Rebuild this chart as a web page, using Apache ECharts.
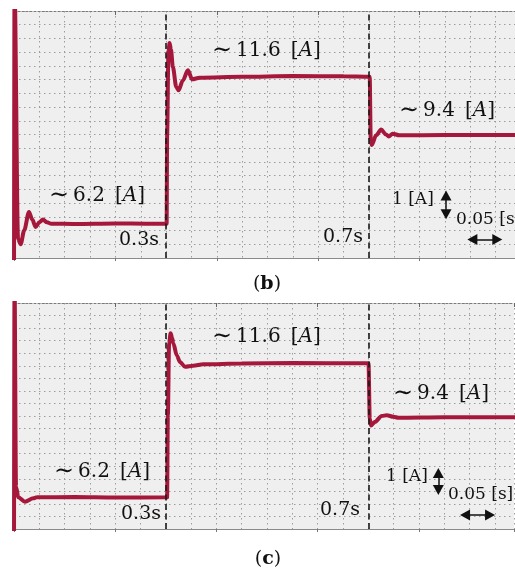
<!DOCTYPE html>
<html>
<head>
<meta charset="utf-8">
<script src="https://cdn.jsdelivr.net/npm/echarts@6/dist/echarts.min.js"></script>
<style>
  html, body { margin: 0; padding: 0; background: #ffffff; }
  #chart { width: 515px; height: 574px; }
</style>
</head>
<body>
<div id="chart"></div>
<script>
// ---------- data (time in s, current in A) ----------
const traceB_t = [0, 0.001, 0.008, 0.0132, 0.02, 0.0296, 0.036, 0.0428, 0.05, 0.0571, 0.065, 0.0737, 0.12, 0.2, 0.26,
  0.301, 0.302, 0.3045, 0.3068, 0.3095, 0.3133, 0.32, 0.3245, 0.333, 0.3429, 0.3515, 0.3659, 0.45, 0.55, 0.65,
  0.7015, 0.7035, 0.7055, 0.7141, 0.724, 0.7337, 0.739, 0.7468, 0.76, 0.85, 0.99];
const traceB_i = [4.0, 15.0, 5.7, 5.5, 6.0, 6.68, 6.4, 6.13, 6.3, 6.4, 6.3, 6.25, 6.24, 6.26, 6.25,
  6.25, 9.5, 12.5, 12.83, 12.6, 11.96, 11.23, 11.11, 11.47, 11.84, 11.51, 11.57, 11.6, 11.63, 11.62,
  11.6, 9.3, 9.12, 9.47, 9.68, 9.5, 9.43, 9.53, 9.47, 9.48, 9.48];

const traceC_t = [0, 0.001, 0.004, 0.0085, 0.0217, 0.038, 0.045, 0.12, 0.2,
  0.3025, 0.304, 0.3065, 0.3095, 0.3125, 0.3148, 0.3215, 0.328, 0.338, 0.354, 0.374, 0.45, 0.55,
  0.7005, 0.703, 0.7055, 0.7134, 0.7267, 0.7366, 0.7496, 0.7595, 0.85, 0.99];
const traceC_i = [4.0, 15.0, 6.68, 6.26, 6.09, 6.22, 6.26, 6.27, 6.25,
  6.26, 9.5, 12.4, 12.8, 12.6, 12.4, 11.92, 11.65, 11.46, 11.5, 11.56, 11.59, 11.61,
  11.6, 9.4, 9.12, 9.27, 9.5, 9.53, 9.47, 9.43, 9.45, 9.45];

const switchTimes = [0.3, 0.7];
const levelTexts = ['6.2', '11.6', '9.4'];
const timeTexts = ['0.3s', '0.7s'];
const scaleTexts = ['1 [A]', '0.05 [s]'];
// scale-bar annotations in data units: [t1, i1, t2, i2]
const scaleArrowB = { v: [0.852, 7.28, 0.852, 6.59], h: [0.9039, 5.67, 0.9531, 5.67] };
const scaleArrowC = { v: [0.8385, 7.23, 0.8385, 6.55], h: [0.8913, 5.56, 0.9407, 5.56] };

// ---------- styles ----------
const RED = '#a6183b';
const GRID_BG = '#efefef';
const DOT = { color: '#9c9c9c', width: 1, type: [1.5, 3.5] };
const SERIF = '"DejaVu Serif", serif';

function zip(a, b) { return a.map((v, k) => [v, b[k]]); }

function axesFor(gi, xmax) {
  return [
    { gridIndex: gi, type: 'value', min: 0, max: xmax, interval: 0.05, position: 'bottom',
      axisLine: { show: true, lineStyle: { color: '#8a8a8a', width: 1 } },
      axisTick: { show: false }, axisLabel: { show: false },
      splitLine: { show: true, lineStyle: DOT } },
    { gridIndex: gi, type: 'value', min: 0, max: xmax, interval: 0.2, position: 'bottom',
      axisLine: { show: false }, axisTick: { show: true, length: 3, lineStyle: { color: '#777' } },
      axisLabel: { show: false }, splitLine: { show: false } },
    { gridIndex: gi, type: 'value', min: 0, max: xmax, interval: 0.2, position: 'top',
      axisLine: { show: true, lineStyle: { color: '#7a7a7a', width: 1, type: [2, 2] } },
      axisTick: { show: true, inside: true, length: 4, lineStyle: { color: '#666' } },
      axisLabel: { show: false }, splitLine: { show: false } }
  ];
}
function yAxisFor(gi) {
  return { gridIndex: gi, type: 'value', min: 5, max: 14, interval: 0.5,
    axisLine: { show: false }, axisTick: { show: false }, axisLabel: { show: false },
    splitLine: { show: true, lineStyle: DOT } };
}
function arrowPair(a) {
  const ls = { color: '#111', width: 1.5, type: 'solid' };
  return [
    { coord: [a[0], a[1]], symbol: 'triangle', symbolSize: [11, 10], lineStyle: ls },
    { coord: [a[2], a[3]], symbol: 'triangle', symbolSize: [11, 10], lineStyle: ls }
  ];
}
function traceSeries(xi, yi, data, arrows) {
  const dash = { color: '#1a1a1a', width: 1.6, type: [6, 3.5] };
  return {
    type: 'line', xAxisIndex: xi, yAxisIndex: yi, data: data,
    showSymbol: false, symbol: 'none', smooth: 0.3, smoothMonotone: 'x', clip: true,
    lineStyle: { color: RED, width: 4 }, z: 3,
    markLine: {
      silent: true, symbol: 'none', animation: false, label: { show: false },
      data: [
        { xAxis: switchTimes[0], lineStyle: dash },
        { xAxis: switchTimes[1], lineStyle: dash },
        arrowPair(arrows.v),
        arrowPair(arrows.h)
      ]
    }
  };
}

function levelLabel(txt, x, y) {
  return { type: 'text', x: x, y: y, z: 10,
    style: { text: '{t|∼}{n|\u2009' + txt + '\u2002[}{i|A}{n|]}', textVerticalAlign: 'middle', textAlign: 'left',
      rich: { t: { fontFamily: SERIF, fontSize: 24, fill: '#111' },
              n: { fontFamily: SERIF, fontSize: 20, fill: '#111' },
              i: { fontFamily: SERIF, fontSize: 20, fontStyle: 'italic', fill: '#111' } } } };
}
function plainLabel(txt, x, y, size) {
  return { type: 'text', x: x, y: y, z: 10,
    style: { text: txt, font: size + 'px ' + SERIF, fill: '#111', textVerticalAlign: 'middle', textAlign: 'left' } };
}
function panelLabel(letter, x, y) {
  return { type: 'text', x: x, y: y, z: 10,
    style: { text: '{n|(}{b|' + letter + '}{n|)}', textAlign: 'center', textVerticalAlign: 'middle',
      rich: { n: { fontFamily: SERIF, fontSize: 19, fill: '#111' },
              b: { fontFamily: SERIF, fontSize: 19, fontWeight: 'bold', fill: '#111' } } } };
}

const chart = echarts.init(document.getElementById('chart'), null, { renderer: 'canvas' });
chart.setOption({
  animation: false,
  backgroundColor: '#ffffff',
  grid: [
    { left: 14, top: 11, width: 501.4, height: 247, show: true, backgroundColor: GRID_BG, borderWidth: 0 },
    { left: 14, top: 303, width: 500, height: 226, show: true, backgroundColor: GRID_BG, borderWidth: 0 }
  ],
  xAxis: axesFor(0, 0.988).concat(axesFor(1, 0.988)),
  yAxis: [yAxisFor(0), yAxisFor(1)],
  series: [
    traceSeries(0, 0, zip(traceB_t, traceB_i), scaleArrowB),
    traceSeries(3, 1, zip(traceC_t, traceC_i), scaleArrowC)
  ],
  graphic: [
    levelLabel(levelTexts[0], 49, 196),
    levelLabel(levelTexts[1], 212, 51),
    levelLabel(levelTexts[2], 399, 111),
    plainLabel(timeTexts[0], 119, 240, 19),
    plainLabel(timeTexts[1], 323, 237, 19),
    plainLabel(scaleTexts[0], 392, 200, 17),
    plainLabel(scaleTexts[1], 456, 220, 17),
    panelLabel('b', 267, 284),
    levelLabel(levelTexts[0], 54, 472),
    levelLabel(levelTexts[1], 212, 337),
    levelLabel(levelTexts[2], 393, 394),
    plainLabel(timeTexts[0], 121, 514, 19),
    plainLabel(timeTexts[1], 320, 510, 19),
    plainLabel(scaleTexts[0], 386, 477, 17),
    plainLabel(scaleTexts[1], 448, 495, 17),
    panelLabel('c', 268, 559)
  ]
});
</script>
</body>
</html>
